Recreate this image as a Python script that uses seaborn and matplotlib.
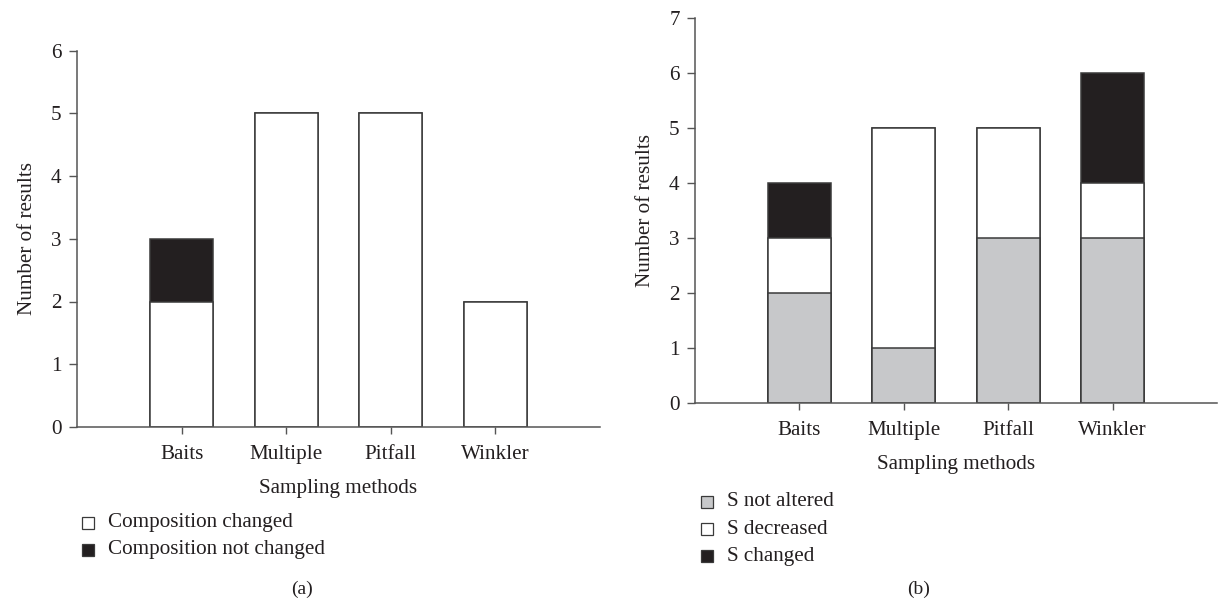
import matplotlib
matplotlib.use("Agg")
import matplotlib.pyplot as plt
from matplotlib.lines import Line2D
import seaborn as sns
import pandas as pd
import numpy as np

methods = ["Baits", "Multiple", "Pitfall", "Winkler"]
comp_changed = [2, 5, 5, 2]
comp_not_changed = [1, 0, 0, 0]
s_not_altered = [2, 1, 3, 3]
s_decreased = [1, 4, 2, 1]
s_changed = [1, 0, 0, 2]

DARK = "#231f20"
GRAY = "#c7c8ca"
WHITE = "#ffffff"
EDGE = "#3a3a3a"
SPINE = "#555555"

sns.set_theme(style="white")
plt.rcParams["font.family"] = ["Liberation Serif", "DejaVu Serif"]
FS = 15.2

fig = plt.figure(figsize=(12.18, 6.01), dpi=100)
axA = fig.add_axes([77/1218, 1-427/601, (600-77)/1218, (427-50.5)/601])
axB = fig.add_axes([695/1218, 1-403/601, (1217-695)/1218, (403-18)/601])


def stacked(ax, layers, colors):
    cum = np.cumsum(np.array(layers), axis=0)
    # draw from top layer (largest cumulative) down
    for i in range(len(layers) - 1, -1, -1):
        df = pd.DataFrame({"method": methods, "value": cum[i]})
        sns.barplot(data=df, x="method", y="value", order=methods, ax=ax,
                    color=colors[i], saturation=1, width=0.6,
                    edgecolor=EDGE, linewidth=1.1, errorbar=None)


stacked(axA, [comp_changed, comp_not_changed], [WHITE, DARK])
stacked(axB, [s_not_altered, s_decreased, s_changed], [GRAY, WHITE, DARK])

for ax, ymax in [(axA, 6), (axB, 7)]:
    ax.set_xlim(-1, 4)
    ax.set_ylim(0, ymax)
    ax.set_yticks(range(ymax + 1))
    for s in ["top", "right"]:
        ax.spines[s].set_visible(False)
    for s in ["left", "bottom"]:
        ax.spines[s].set_color(SPINE)
        ax.spines[s].set_linewidth(1.1)
    ax.tick_params(axis="both", which="both", direction="out", length=5,
                   width=1, color=SPINE, labelsize=FS, pad=4, colors="#231f20")
    ax.tick_params(axis="y", left=True, length=6, pad=5)
    ax.tick_params(axis="x", bottom=True, length=5, pad=8)
    ax.set_xlabel("Sampling methods", fontsize=FS, color="#231f20", labelpad=11)
    ax.set_ylabel("Number of results", fontsize=FS, color="#231f20", labelpad=10)
    for p in ax.patches:
        p.set_linewidth(1.1)

def legend(ax_x, ys, labels, colors):
    for y, lab, c in zip(ys, labels, colors):
        fig.add_artist(Line2D([ax_x / 1218], [1 - y / 601], marker="s",
                              markersize=9, markerfacecolor=c,
                              markeredgecolor=EDGE, markeredgewidth=0.9,
                              linestyle="none", transform=fig.transFigure))
        fig.text((ax_x + 20) / 1218, 1 - y / 601, lab, fontsize=FS,
                 va="center", ha="left", color="#231f20")

legend(88, [523, 549.5], ["Composition changed", "Composition not changed"],
       [WHITE, DARK])
legend(707, [502, 529, 556], ["S not altered", "S decreased", "S changed"],
       [GRAY, WHITE, DARK])

fig.text(302 / 1218, 1 - 589 / 601, "(a)", fontsize=14, ha="center",
         va="center", color="#231f20")
fig.text(919 / 1218, 1 - 589 / 601, "(b)", fontsize=14, ha="center",
         va="center", color="#231f20")

fig.savefig("out.png", dpi=100)
